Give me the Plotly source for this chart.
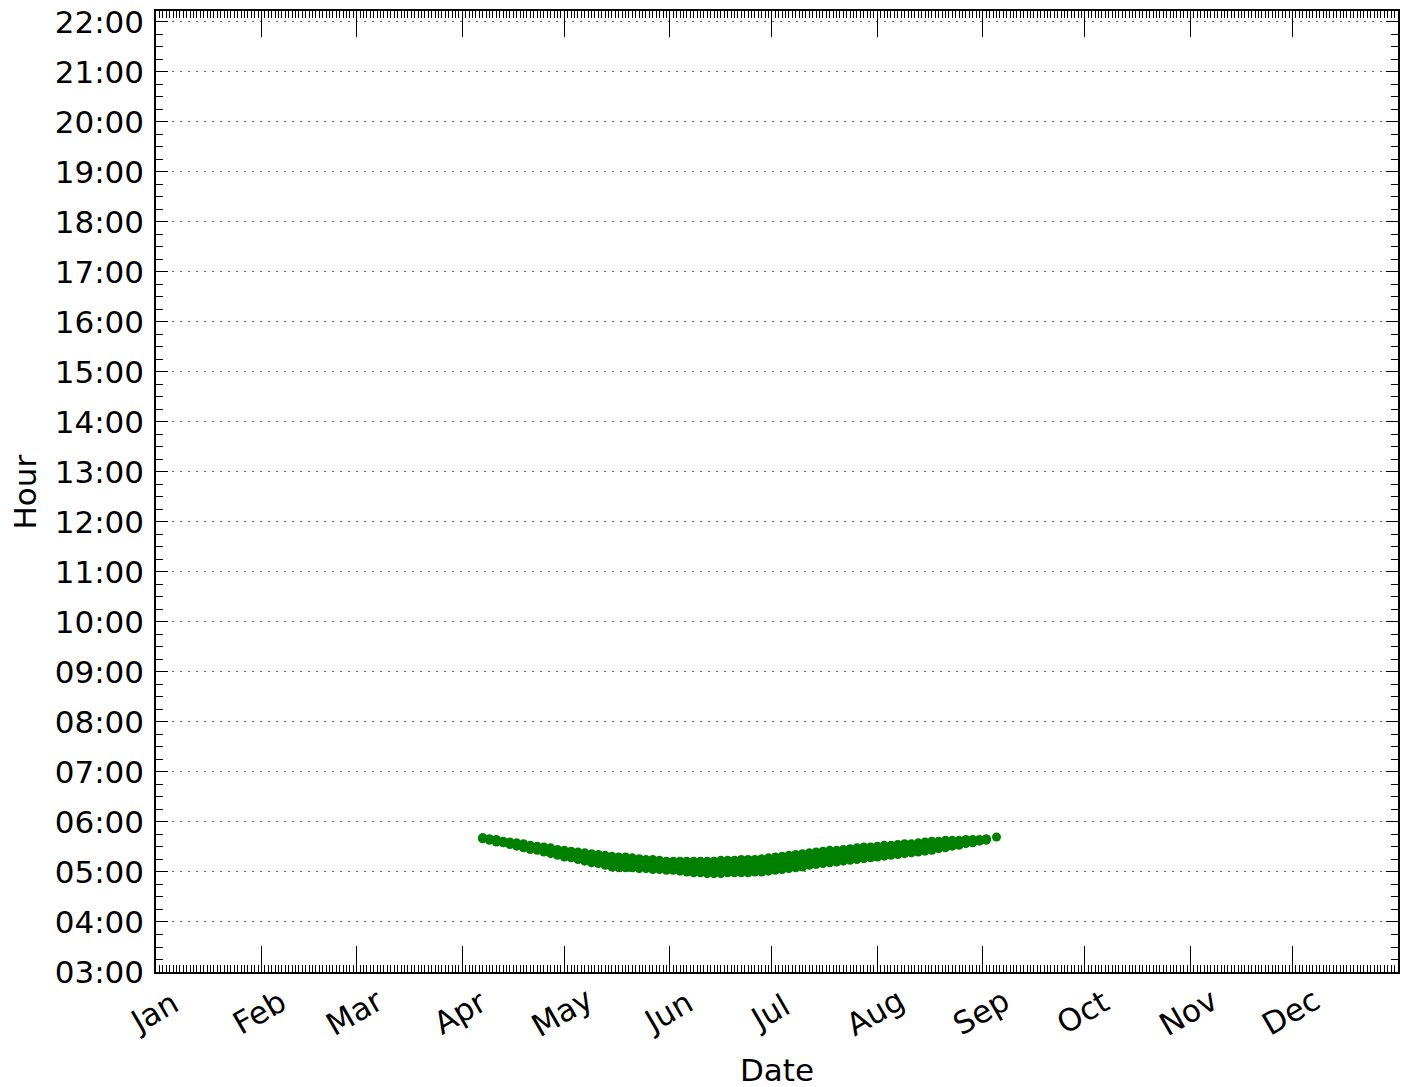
import pandas as pd
import plotly.graph_objects as go

dates = [
    "2013-04-07", "2013-04-09", "2013-04-11", "2013-04-13", "2013-04-15", "2013-04-17",
    "2013-04-19", "2013-04-21", "2013-04-23", "2013-04-25", "2013-04-27", "2013-04-29",
    "2013-05-01", "2013-05-03", "2013-05-05", "2013-05-07", "2013-05-09", "2013-05-11",
    "2013-05-13", "2013-05-15", "2013-05-17", "2013-05-19", "2013-05-21", "2013-05-23",
    "2013-05-25", "2013-05-27", "2013-05-29", "2013-05-31",
    "2013-06-02", "2013-06-04", "2013-06-06", "2013-06-08", "2013-06-10", "2013-06-12",
    "2013-06-14", "2013-06-16", "2013-06-18", "2013-06-20", "2013-06-22", "2013-06-24",
    "2013-06-26", "2013-06-28", "2013-06-30",
    "2013-07-02", "2013-07-04", "2013-07-06", "2013-07-08", "2013-07-10", "2013-07-12",
    "2013-07-14", "2013-07-16", "2013-07-18", "2013-07-20", "2013-07-22", "2013-07-24",
    "2013-07-26", "2013-07-28", "2013-07-30",
    "2013-08-01", "2013-08-03", "2013-08-05", "2013-08-07", "2013-08-09", "2013-08-11",
    "2013-08-13", "2013-08-15", "2013-08-17", "2013-08-19", "2013-08-21", "2013-08-23",
    "2013-08-25", "2013-08-27", "2013-08-29", "2013-08-31",
    "2013-09-02",
]

# sunrise times, minutes after midnight (four observation sets)
rise_a = [341, 340, 339, 337, 336, 335, 334, 332, 331, 330, 329, 327,
          326, 325, 324, 323, 322, 321, 320, 319, 318, 318, 317, 316, 315, 315, 314, 313,
          313, 313, 313, 313, 313, 313, 313, 314, 314, 314, 315, 315, 315, 316, 317,
          318, 319, 320, 321, 322, 323, 324, 325, 326, 326, 327, 328, 329, 330, 330,
          331, 332, 332, 333, 334, 334, 335, 336, 337, 337, 338, 338, 338, 339, 339, 339,
          340]
rise_b = [341, 339, 338, 336, 335, 334, 332, 330, 329, 328, 327, 325,
          323, 322, 321, 320, 318, 317, 316, 315, 314, 314, 313, 312, 311, 311, 310, 309,
          309, 309, 309, 308, 308, 308, 308, 309, 309, 309, 310, 310, 310, 311, 312,
          313, 314, 315, 316, 317, 318, 319, 320, 321, 321, 322, 323, 324, 325, 326,
          327, 328, 328, 329, 330, 330, 331, 332, 333, 334, 335, 336, 336, 337, 338, 338,
          339]
rise_c = [340, 339, 337, 336, 334, 332, 331, 329, 328, 326, 324, 322,
          321, 320, 318, 316, 315, 314, 312, 310, 309, 309, 309, 308, 308, 307, 307, 306,
          306, 305, 304, 304, 304, 303, 303, 303, 304, 304, 304, 304, 305, 305, 306,
          307, 308, 309, 310, 311, 313, 314, 315, 316, 317, 318, 319, 320, 321, 321,
          322, 323, 324, 325, 326, 327, 328, 329, 330, 331, 332, 333, 334, 336, 336, 338,
          339]
rise_d = [340, 338, 336, 335, 333, 331, 329, 327, 326, 324, 322, 320,
          318, 317, 315, 313, 311, 310, 308, 306, 305, 305, 305, 304, 304, 303, 303, 302,
          302, 301, 300, 299, 299, 298, 298, 298, 299, 299, 299, 299, 300, 300, 301,
          302, 303, 304, 305, 306, 308, 309, 310, 311, 312, 313, 314, 315, 316, 317,
          318, 319, 320, 321, 322, 323, 324, 325, 326, 328, 329, 331, 332, 334, 335, 337,
          338]
last_date = ["2013-09-05"]
last_rise = [342]

month_starts = ["2013-01-01", "2013-02-01", "2013-03-01", "2013-04-01", "2013-05-01",
                "2013-06-01", "2013-07-01", "2013-08-01", "2013-09-01", "2013-10-01",
                "2013-11-01", "2013-12-01"]
month_labels = ["Jan", "Feb", "Mar", "Apr", "May", "Jun", "Jul", "Aug", "Sep", "Oct",
                "Nov", "Dec"]

x_range = ["2013-01-01", "2014-01-01"]
y_range_min = [180, 1333]  # 03:00 to about 22:13
base = pd.Timestamp("2013-01-01")


def to_time(mins):
    return [base + pd.Timedelta(minutes=m) for m in mins]


xs, ys = [], []
for series in (rise_a, rise_b, rise_c, rise_d):
    xs += dates
    ys += to_time(series)
xs += last_date
ys += to_time(last_rise)

FONT = "DejaVu Sans"
FS = 31
fig = go.Figure()
fig.add_trace(go.Scatter(
    x=xs, y=ys, mode="markers",
    marker=dict(color="#008000", size=9, line=dict(width=0)),
    showlegend=False,
))

annotations = []
for d, lab in zip(month_starts, month_labels):
    annotations.append(dict(
        x=d, xref="x", y=-0.042, yref="paper", xshift=-2,
        text=lab, showarrow=False, textangle=-30,
        xanchor="center", yanchor="middle", font=dict(size=FS),
    ))
annotations.append(dict(x=0.5, xref="paper", y=-0.102, yref="paper", text="Date",
                        showarrow=False, xanchor="center", yanchor="middle",
                        font=dict(size=FS)))
annotations.append(dict(x=-0.1055, xref="paper", y=0.5, yref="paper", text="Hour",
                        showarrow=False, textangle=-90, xanchor="center",
                        yanchor="middle", font=dict(size=FS)))

fig.update_layout(
    width=1404, height=1087,
    margin=dict(l=156, r=4, t=11, b=115),
    paper_bgcolor="white", plot_bgcolor="white",
    font=dict(family=FONT, size=FS, color="black"),
    annotations=annotations,
)
fig.update_xaxes(
    type="date", range=x_range,
    showticklabels=False, dtick="M1", tick0="2013-01-01",
    ticks="inside", ticklen=26, tickwidth=1.2, tickcolor="black",
    minor=dict(ticks="inside", dtick=86400000, ticklen=7, tickwidth=1, tickcolor="black"),
    showline=True, linecolor="black", linewidth=1.5, mirror="allticks",
    showgrid=False, zeroline=False,
)
fig.update_yaxes(
    type="date", range=to_time(y_range_min),
    tickformat="%H:%M", dtick=3600000, tick0=base + pd.Timedelta(hours=3),
    ticks="inside", ticklen=12, tickwidth=1.2, tickcolor="black",
    ticklabelstandoff=4,
    minor=dict(ticks="inside", dtick=900000, ticklen=7, tickwidth=1, tickcolor="black",
               showgrid=False),
    showline=True, linecolor="black", linewidth=1.5, mirror="allticks",
    showgrid=True, gridcolor="#666666", griddash="2px,6px", gridwidth=1.2,
    zeroline=False,
)

fig.write_html("out.html")
